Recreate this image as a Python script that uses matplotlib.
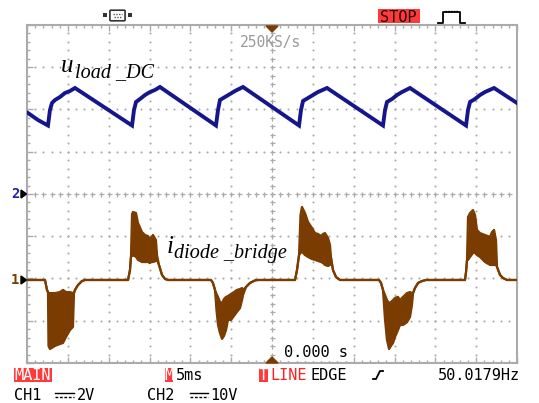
import matplotlib
matplotlib.use("Agg")
import matplotlib.pyplot as plt
import numpy as np
from matplotlib.patches import Rectangle, Polygon, FancyBboxPatch
from matplotlib.lines import Line2D

# ---------------- data ----------------
# CH2 (blue): load DC voltage, volts vs time in ms (10 V/div, 5 ms/div)
t_u = [-29.88, -28.66, -27.43, -27.19, -26.94, -26.57, -25.96, -25.35, -24.74, -24.12,
       -17.14, -16.90, -16.65, -16.16, -15.55, -14.94, -14.33, -13.72,
       -6.86, -6.61, -6.37, -5.76, -5.14, -4.53, -3.55,
       3.31, 3.55, 3.80, 4.41, 5.02, 5.63, 6.74,
       13.59, 13.84, 14.08, 14.70, 15.31, 15.92, 16.90,
       23.76, 24.00, 24.25, 24.86, 25.47, 26.08, 27.19, 30.00]
v_u = [19.17, 17.52, 16.21, 19.88, 21.54, 22.25, 22.96, 23.91, 24.38, 25.09,
       16.21, 19.88, 21.78, 22.49, 23.43, 24.14, 24.62, 25.33,
       16.21, 19.88, 22.25, 22.96, 23.67, 24.38, 25.33,
       16.21, 19.88, 22.02, 22.72, 23.43, 24.14, 25.09,
       16.21, 19.88, 21.78, 22.49, 23.43, 24.14, 25.09,
       16.21, 19.88, 21.78, 22.49, 23.43, 24.14, 25.09, 21.54]

# CH1 (brown): diode bridge current probe, volts (2 V/div); upper / lower envelope
t_i = [-30.00, -27.80, -27.55, -27.43, -27.37, -27.19, -26.57, -25.96, -25.59, -25.23,
       -24.74, -24.37, -24.25, -24.12, -23.76, -23.27, -22.90,
       -17.63, -17.39, -17.27, -17.14, -17.02, -16.65, -16.41, -15.92, -15.55, -15.19,
       -14.94, -14.82, -14.57, -14.21, -14.08, -13.84, -13.47, -13.10, -12.74,
       -7.47, -7.23, -6.98, -6.80, -6.61, -6.37, -6.12, -5.88, -5.63, -5.39, -5.02,
       -4.65, -4.29, -3.92, -3.67, -3.55, -3.18, -2.69, -2.08, -1.71,
       2.82, 3.06, 3.31, 3.49, 3.67, 4.04, 4.41, 4.90, 5.27, 5.63, 6.00, 6.25, 6.49,
       6.86, 7.10, 7.23, 7.47, 7.84, 8.33,
       13.10, 13.35, 13.59, 13.84, 14.08, 14.33, 14.57, 14.82, 15.06, 15.43, 15.67,
       16.04, 16.53, 16.90, 17.14, 17.27, 17.51, 17.88, 18.37, 18.86,
       23.63, 23.76, 23.88, 24.00, 24.25, 24.61, 24.86, 25.10, 25.47, 26.08, 26.70,
       26.94, 27.19, 27.43, 27.55, 27.92, 28.29, 28.78, 30.00]
i_hi = [0, 0, -0.47, -0.57, -0.62, -0.62, -0.62, -0.57, -0.47, -0.57,
        -0.57, -0.62, -0.62, -0.47, -0.24, -0.05, 0,
        0, 0.47, 1.09, 3.12, 3.22, 3.17, 2.70, 2.27, 2.13, 2.08,
        1.89, 1.99, 2.13, 1.89, 1.18, 0.71, 0.24, 0.05, 0,
        0, -0.14, -0.47, -0.66, -0.80, -1.04, -1.09, -0.90, -0.80, -0.76, -0.66,
        -0.57, -0.47, -0.43, -0.38, -0.47, -0.33, -0.14, -0.02, 0,
        0, 0.47, 1.18, 3.08, 3.46, 3.17, 2.75, 2.46, 2.22, 2.18, 2.08, 2.18, 2.22,
        1.99, 1.66, 1.04, 0.47, 0.14, 0,
        0, -0.14, -0.47, -0.71, -0.95, -1.09, -1.04, -0.95, -0.85, -0.80, -0.95,
        -0.80, -0.62, -0.57, -0.62, -0.62, -0.38, -0.14, -0.05, 0,
        0, 0.38, 0.95, 2.98, 3.17, 3.31, 3.08, 2.37, 2.22, 2.13, 2.04,
        2.27, 2.37, 1.89, 0.62, 0.24, 0.09, 0, 0]
i_lo = [0, 0, -0.47, -0.57, -3.12, -3.27, -3.12, -3.03, -2.98, -2.70,
        -2.37, -2.22, -0.62, -0.47, -0.24, -0.05, 0,
        0, 0.47, 1.09, 1.14, 1.18, 1.09, 0.95, 0.85, 0.85, 0.85,
        0.80, 0.85, 0.85, 0.90, 0.95, 0.71, 0.24, 0.05, 0,
        0, -0.14, -0.47, -1.42, -2.13, -2.51, -2.79, -2.65, -2.37, -1.89, -1.89,
        -1.70, -1.51, -1.33, -0.95, -0.71, -0.33, -0.14, -0.02, 0,
        0, 0.47, 1.18, 1.28, 1.33, 1.18, 1.09, 0.99, 0.95, 0.90, 0.85, 0.80, 0.71,
        0.66, 0.71, 1.04, 0.47, 0.14, 0,
        0, -0.14, -0.47, -1.89, -2.84, -3.27, -3.12, -2.98, -2.70, -2.37, -2.13,
        -2.13, -2.00, -1.75, -1.18, -0.62, -0.38, -0.14, -0.05, 0,
        0, 0.38, 0.95, 0.95, 1.09, 1.28, 1.28, 1.18, 1.09, 0.85, 0.71,
        0.71, 0.71, 0.71, 0.62, 0.24, 0.09, 0, 0]

top_icons = ["STOP"]
status_row1 = ["MAIN", "M", "5ms", "T", "LINE", "EDGE", "50.0179Hz"]
status_row2 = ["CH1", "2V", "CH2", "10V"]
sample_rate = "250KS/s"
trig_time = "0.000 s"

# ---------------- styling ----------------
W, H = 539, 403
BLUE = "#16168c"
BROWN = "#7a3c00"
GRID = "#ababab"
RED = "#ff3a3a"
MONO = "DejaVu Sans Mono"

fig = plt.figure(figsize=(W / 100, H / 100), dpi=100)
fig.patch.set_facecolor("white")


def P(x, y):
    return (x / W, 1 - y / H)


ax = fig.add_axes([27 / W, 1 - 363 / H, 490 / W, 338 / H])
ax.set_xlim(-30, 30)
ax.set_ylim(-40, 40)
ax.set_facecolor("white")
for s in ax.spines.values():
    s.set_color(GRID)
    s.set_linewidth(1.5)
ax.set_xticks(np.arange(-30, 31, 5))
ax.set_xticks(np.arange(-30, 31, 1), minor=True)
ax.set_yticks(np.arange(-40, 41, 10))
ax.set_yticks(np.arange(-40, 41, 2), minor=True)
ax.tick_params(which="both", direction="in", top=True, right=True, bottom=True, left=True,
               labelleft=False, labelbottom=False, color=GRID, width=1)
ax.tick_params(which="major", length=4.5)
ax.tick_params(which="minor", length=2.5)

# dotted graticule
xm = np.arange(-29, 30, 1)
ym = np.arange(-38, 39, 2)
for xg in [-25, -20, -15, -10, -5, 5, 10, 15, 20, 25]:
    ax.plot(np.full_like(ym, xg, dtype=float), ym, ls="none", marker="o", ms=1.5,
            color=GRID, mec="none", zorder=1)
for yg in [-30, -20, -10, 10, 20, 30]:
    ax.plot(xm, np.full_like(xm, yg, dtype=float), ls="none", marker="o", ms=1.5,
            color=GRID, mec="none", zorder=1)
ax.plot(np.zeros_like(ym, dtype=float), ym, ls="none", marker="+", ms=3.6, mew=0.9,
        color=GRID, zorder=1)
ax.plot(xm, np.zeros_like(xm, dtype=float), ls="none", marker="+", ms=3.6, mew=0.9,
        color=GRID, zorder=1)

# CH2 trace
ax.plot(t_u, v_u, color=BLUE, lw=2.8, solid_joinstyle="miter", zorder=5)

# CH1 trace on twin axis (2 V/div, ground 2 div below centre)
axi = ax.twinx()
axi.set_ylim(-3.93, 12.07)
axi.axis("off")
axi.fill_between(t_i, i_lo, i_hi, color=BROWN, lw=0, zorder=4)
axi.plot(t_i, i_hi, color=BROWN, lw=1.6, zorder=5)
axi.plot(t_i, i_lo, color=BROWN, lw=1.6, zorder=5)

# ---------------- annotations ----------------
fig.text(*P(61, 72), "u", fontsize=18, style="italic", family="Liberation Serif", va="baseline")
fig.text(*P(75, 77), "load _DC", fontsize=14.5, style="italic", family="Liberation Serif",
         va="baseline")
fig.text(*P(167, 253), "i", fontsize=18, style="italic", family="Liberation Serif", va="baseline")
fig.text(*P(174, 258), "diode _bridge", fontsize=14.5, style="italic",
         family="Liberation Serif", va="baseline")

fig.text(*P(15, 194), "2", color="#2020a8", fontsize=10, family=MONO, ha="center",
         va="center", weight="bold")
fig.text(*P(15, 280), "1", color=BROWN, fontsize=10, family=MONO, ha="center",
         va="center", weight="bold")
for yy in (194, 280):
    fig.patches.append(Polygon([P(21, yy - 4), P(21, yy + 4), P(26.5, yy)], closed=True,
                               color="black", transform=fig.transFigure, figure=fig))

fig.patches.append(Polygon([P(266, 26), P(278, 26), P(272, 32)], closed=True, color=BROWN,
                           transform=fig.transFigure, figure=fig))
fig.patches.append(Polygon([P(266, 363), P(278, 363), P(272, 357)], closed=True, color=BROWN,
                           transform=fig.transFigure, figure=fig))

fig.text(*P(240, 47), sample_rate, color="#9a9a9a", fontsize=10.5, family=MONO, va="baseline")
fig.text(*P(284, 357), trig_time, color="black", fontsize=11, family=MONO, va="baseline",
         bbox=dict(facecolor="white", edgecolor="none", pad=0.5))

# top bar: connector icon
fig.patches.append(FancyBboxPatch(P(111, 20), 13 / W, 9 / H, boxstyle="round,pad=0.002",
                                  fc="white", ec="#333333", lw=1.2,
                                  transform=fig.transFigure, figure=fig))
for xx in (103, 128):
    fig.patches.append(Rectangle(P(xx, 17), 4 / W, 4 / H, fc="#333333", ec="none",
                                 transform=fig.transFigure, figure=fig))
fig.lines.append(Line2D([113 / W, 122 / W], [1 - 14 / H, 1 - 14 / H], color="#555555", lw=1,
                        ls=(0, (1, 1)), transform=fig.transFigure))
fig.lines.append(Line2D([114 / W, 121 / W], [1 - 17 / H, 1 - 17 / H], color="#555555", lw=1,
                        ls=(0, (1, 1)), transform=fig.transFigure))

# STOP
fig.patches.append(Rectangle(P(378, 23), 42 / W, 14 / H, fc=RED, ec="none",
                             transform=fig.transFigure, figure=fig))
fig.text(*P(380, 21.5), top_icons[0], color="#2a0000", fontsize=11, family=MONO,
         va="baseline")
px = [438, 443, 443, 460, 460, 465]
py = [23, 23, 12, 12, 23, 23]
fig.lines.append(Line2D([x / W for x in px], [1 - y / H for y in py], color="black", lw=1.3,
                        transform=fig.transFigure))
fig.lines.append(Line2D([445 / W, 458 / W], [1 - 10.5 / H, 1 - 10.5 / H], color="black",
                        lw=1, ls=(0, (1, 1)), transform=fig.transFigure))

# status row 1
fig.patches.append(Rectangle(P(14, 382), 38 / W, 14 / H, fc=RED, ec="none",
                             transform=fig.transFigure, figure=fig))
fig.text(*P(14.5, 380), status_row1[0], color="white", fontsize=11, family=MONO, va="baseline")
fig.patches.append(Rectangle(P(165, 382), 8 / W, 14 / H, fc=RED, ec="none",
                             transform=fig.transFigure, figure=fig))
fig.text(*P(164.6, 380), status_row1[1], color="white", fontsize=11, family=MONO,
         va="baseline")
fig.text(*P(176, 380), status_row1[2], color="black", fontsize=11, family=MONO, va="baseline")
fig.patches.append(Rectangle(P(259, 382), 9 / W, 14 / H, fc=RED, ec="none",
                             transform=fig.transFigure, figure=fig))
fig.text(*P(259, 380), status_row1[3], color="white", fontsize=11, family=MONO, va="baseline")
fig.text(*P(270, 380), status_row1[4], color="#ff2020", fontsize=11, family=MONO, va="baseline")
fig.text(*P(310, 380), status_row1[5], color="black", fontsize=11, family=MONO, va="baseline")
ex = [373, 376, 380, 383]
ey = [379, 379, 371, 371]
fig.lines.append(Line2D([x / W for x in ex], [1 - y / H for y in ey], color="black", lw=1.3,
                        transform=fig.transFigure))
fig.text(*P(438, 380), status_row1[6], color="black", fontsize=11, family=MONO, va="baseline")

# status row 2
fig.text(*P(14, 400), status_row2[0], color="black", fontsize=11, family=MONO, va="baseline")
fig.text(*P(77, 400), status_row2[1], color="black", fontsize=11, family=MONO, va="baseline")
fig.text(*P(147, 400), status_row2[2], color="black", fontsize=11, family=MONO, va="baseline")
fig.text(*P(210, 400), status_row2[3], color="black", fontsize=11, family=MONO, va="baseline")
for x0, x1 in ((55, 74), (190, 208)):
    fig.lines.append(Line2D([x0 / W, x1 / W], [1 - 393 / H] * 2, color="black", lw=1,
                            transform=fig.transFigure))
    fig.lines.append(Line2D([x0 / W, x1 / W], [1 - 396.5 / H] * 2, color="black", lw=1,
                            ls=(0, (2, 1.2)), transform=fig.transFigure))

fig.savefig("out.png", dpi=100, facecolor="white")
